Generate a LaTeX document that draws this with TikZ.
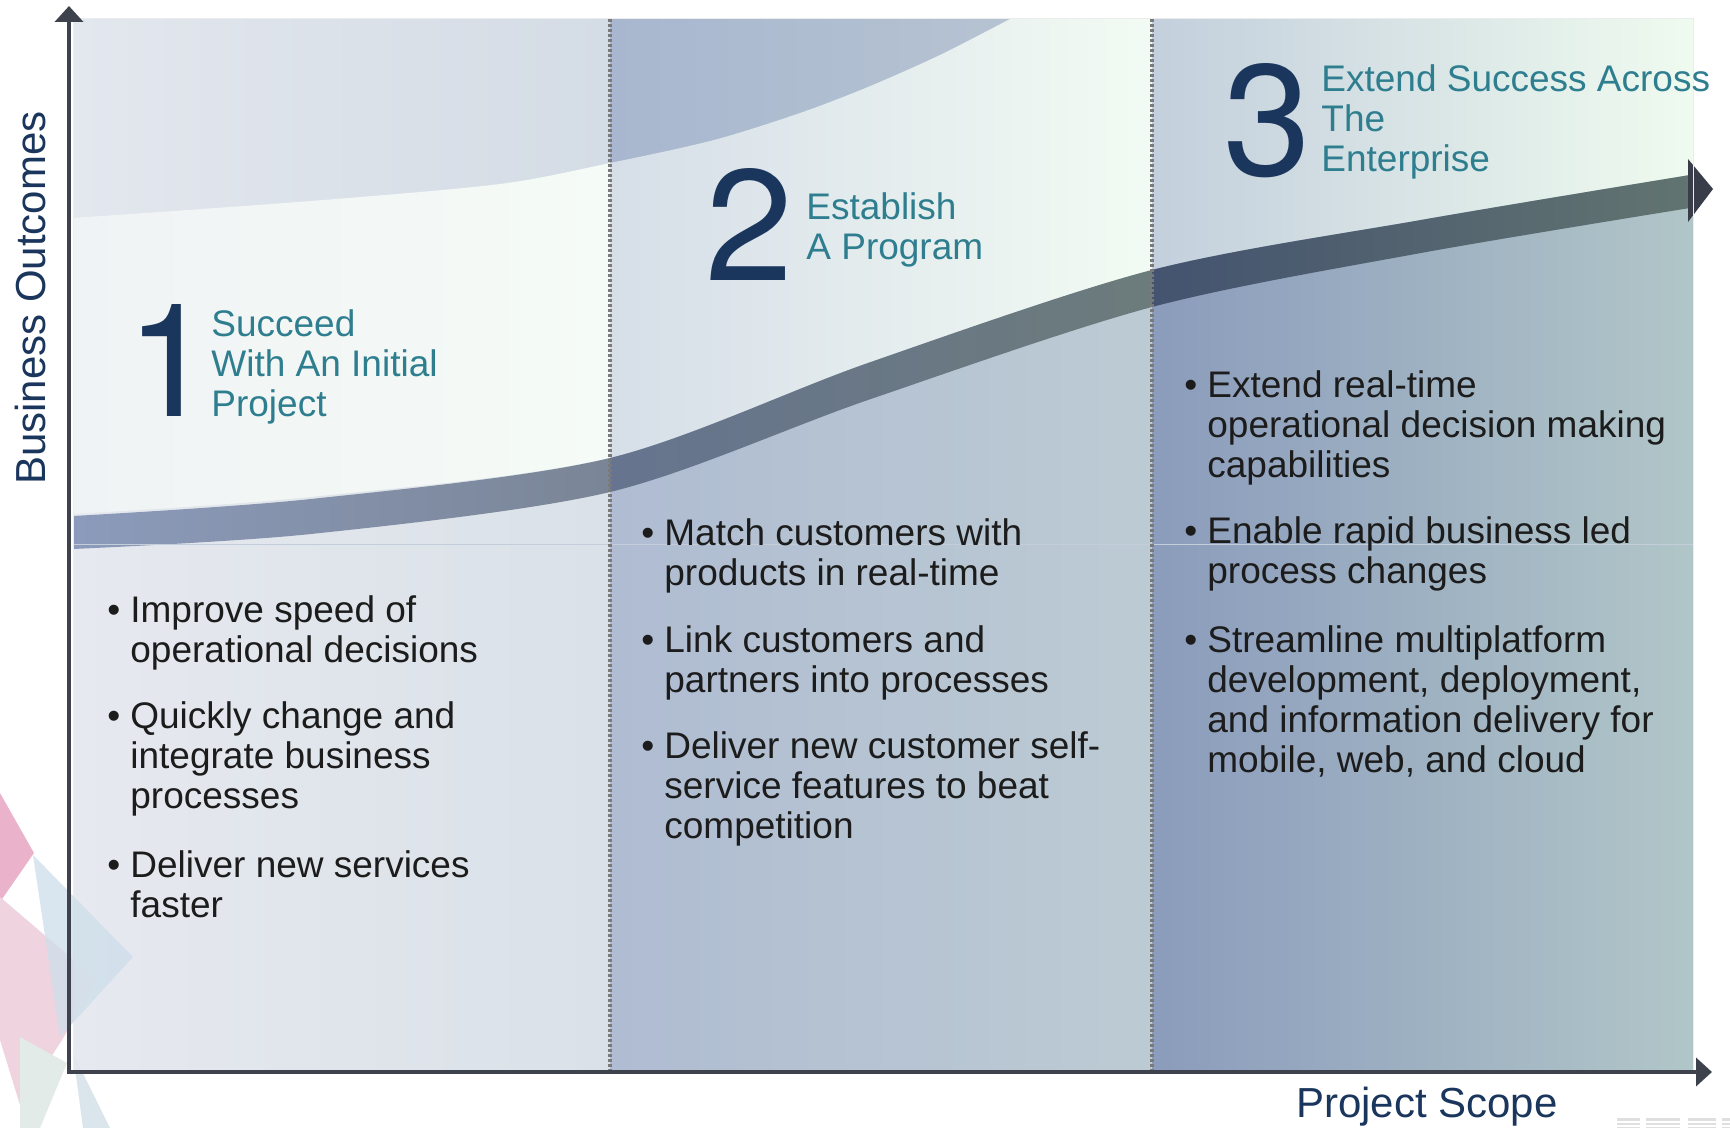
\documentclass[tikz,border=0pt]{standalone}
\usepackage{fontspec}
\setmainfont{Liberation Sans}
\newfontfamily\numeralfont{TeX Gyre Heros}
\usetikzlibrary{arrows.meta}

\definecolor{navy}{HTML}{1B365D}
\definecolor{stageteal}{HTML}{2E7E8F}
\definecolor{ink}{HTML}{1C1C1C}
\definecolor{axisgrey}{HTML}{3D424D}
\definecolor{dotgrey}{HTML}{7A7A7A}
\definecolor{rulegrey}{HTML}{C3CEDA}
\definecolor{headgrey}{HTML}{383D49}
% column shades: top / light band / below band / band
\definecolor{topAL}{HTML}{E3E7EE}\definecolor{topAR}{HTML}{D4DCE5}
\definecolor{midAL}{HTML}{F0F3F5}\definecolor{midAR}{HTML}{F5FBF6}
\definecolor{lowAL}{HTML}{E6E9EF}\definecolor{lowAR}{HTML}{DAE1E8}
\definecolor{bandAL}{HTML}{8C9BBB}\definecolor{bandAR}{HTML}{7A8596}
\definecolor{topBL}{HTML}{A8B7CF}\definecolor{topBR}{HTML}{BAC7D3}
\definecolor{midBL}{HTML}{D6DEE8}\definecolor{midBR}{HTML}{F2FBF3}
\definecolor{lowBL}{HTML}{AFBCD2}\definecolor{lowBR}{HTML}{BCCBD3}
\definecolor{bandBL}{HTML}{66748F}\definecolor{bandBR}{HTML}{6C7B7B}
\definecolor{topCL}{HTML}{C3CFDC}\definecolor{topCR}{HTML}{EFFBEF}
\definecolor{midCL}{HTML}{C3CFDC}\definecolor{midCR}{HTML}{EFFBEF}
\definecolor{lowCL}{HTML}{8B9CBC}\definecolor{lowCR}{HTML}{B1C6C8}
\definecolor{bandCL}{HTML}{44536F}\definecolor{bandCR}{HTML}{627470}
% logo shards
\definecolor{shardpink}{HTML}{EAB3CB}
\definecolor{shardrose}{HTML}{EFD3DF}
\definecolor{shardblue}{HTML}{CFDFEB}
\definecolor{shardmint}{HTML}{E2EBE7}
\definecolor{shardsky}{HTML}{DBE5EC}

\newcommand{\dotitem}{\llap{\textbullet\hspace{5pt}}}
\newcommand{\logoshards}{%
  \fill[shardpink] (0,793) -- (34,853) -- (0,902) -- cycle;
  \fill[shardrose] (0,897) -- (97,980) -- (62,1040) -- (20,1105) -- (0,1040) -- cycle;
  \fill[shardblue,opacity=.8] (33,855) -- (133,957) -- (60,1037) -- cycle;
  \fill[shardmint] (20,1037) -- (67,1063) -- (40,1128) -- (20,1128) -- cycle;
  \fill[shardsky] (73,1053) -- (110,1128) -- (83,1128) -- cycle;
}

\begin{document}
\begin{tikzpicture}
  [x=0.5pt,y=-0.5pt,
   numeral/.style={font=\numeralfont\fontsize{79}{79}\selectfont,text=navy,inner sep=0,anchor=base west},
   stage/.style={font=\fontsize{18.5}{20}\selectfont,text=stageteal,align=left,inner sep=0,anchor=base west},
   point/.style={font=\fontsize{18.5}{20}\selectfont,text=ink,align=left,inner sep=0,anchor=base west},
   axislabel/.style={font=\fontsize{21}{21}\selectfont,text=navy,inner sep=0},
   axis/.style={line width=2pt,draw=axisgrey,-{Triangle[length=8pt,width=14pt]}},
   divider/.style={line width=2pt,draw=dotgrey,dash pattern=on 1.5pt off 1pt}]
  \useasboundingbox (0,0) rectangle (1730,1128);

  \logoshards

  % three stage columns
  \foreach \xa/\xb/\colid in {73/610/A,610/1152/B,1152/1693/C} {
    \shade[left color=top\colid L,right color=top\colid R] (\xa,19) rectangle (\xb,1070);
    \begin{scope}
      \clip plot[smooth] coordinates {(73,218) (311,201) (500,184) (610,163) (714,140) (800,113) (868,87) (940,55) (1010,19)}
        -- (1693,19) -- (1693,1070) -- (73,1070) -- cycle;
      \shade[left color=mid\colid L,right color=mid\colid R] (\xa,19) rectangle (\xb,1070);
    \end{scope}
    \begin{scope}
      \clip plot[smooth] coordinates {(73,514) (311,497) (610,458) (868,363) (1152,270) (1421,220) (1690,175)}
        -- (1693,175) -- (1693,1070) -- (73,1070) -- cycle;
      \shade[left color=low\colid L,right color=low\colid R] (\xa,19) rectangle (\xb,1070);
    \end{scope}
    \begin{scope}
      \clip plot[smooth] coordinates {(73,516) (311,499) (610,458) (868,363) (1152,270) (1421,220) (1690,175)}
        -- plot[smooth] coordinates {(1690,208) (1421,253) (1152,307) (868,400) (610,492) (311,534) (73,549)} -- cycle;
      \shade[left color=band\colid L,right color=band\colid R] (\xa,19) rectangle (\xb,1070);
    \end{scope}
  }
  \fill[headgrey] (1688,159) -- (1713,189) -- (1688,222) -- cycle;
  \draw[rulegrey,line width=0.5pt] (73,545) -- (1693,545);
  \draw[gray!15,line width=0.5pt] (73,19) rectangle (1693,1070);
  \foreach \xd in {610,1152}
    \draw[divider] (\xd,19) -- (\xd,1070);

  \begin{scope}
    \clip (73,19) rectangle (1693,1070);
    \begin{scope}[opacity=.35]
      \logoshards
    \end{scope}
  \end{scope}

  % axes
  \coordinate (origin) at (69,1072);
  \coordinate (ytip) at (69,6);
  \coordinate (xtip) at (1712,1072);
  \draw[axis,line cap=rect] (origin) -- (ytip);
  \draw[axis,line cap=rect] (origin) -- (xtip);
  \node[axislabel,rotate=90,anchor=base] (youtcomes) at (46,298) {Business Outcomes};
  \node[axislabel,anchor=base] (xscope) at (1427,1117) {Project Scope};

  % stage headings (base = last line)
  \node[numeral] (one) at (126,417) {1};
  \node[stage] (stageone) at (211,417) {Succeed\\With An Initial\\Project};
  \node[numeral] (two) at (705,281) {2};
  \node[stage] (stagetwo) at (806,260) {Establish\\A Program};
  \node[numeral] (three) at (1223,176) {3};
  \node[stage] (stagethree) at (1321,172) {Extend Success Across\\The\\Enterprise};

  % stage points (base = last line)
  \node[point] (pa1) at (130,662) {\dotitem Improve speed of\\operational decisions};
  \node[point] (pa2) at (130,808) {\dotitem Quickly change and\\integrate business\\processes};
  \node[point] (pa3) at (130,917) {\dotitem Deliver new services\\faster};
  \node[point] (pb1) at (664,585) {\dotitem Match customers with\\products in real-time};
  \node[point] (pb2) at (664,692) {\dotitem Link customers and\\partners into processes};
  \node[point] (pb3) at (664,838) {\dotitem Deliver new customer self-\\service features to beat\\competition};
  \node[point] (pc1) at (1207,478) {\dotitem Extend real-time\\operational decision making\\capabilities};
  \node[point] (pc2) at (1207,583) {\dotitem Enable rapid business led\\process changes};
  \node[point] (pc3) at (1207,772) {\dotitem Streamline multiplatform\\development, deployment,\\and information delivery for\\mobile, web, and cloud};

  % logo stripes, bottom right
  \foreach \ys in {1118,1122.5,1127}
    \foreach \xs/\xe in {1617/1640,1646/1680,1688/1716,1722/1730}
      \fill[gray!25] (\xs,\ys) rectangle (\xe,\ys+2.5);
\end{tikzpicture}
\end{document}
